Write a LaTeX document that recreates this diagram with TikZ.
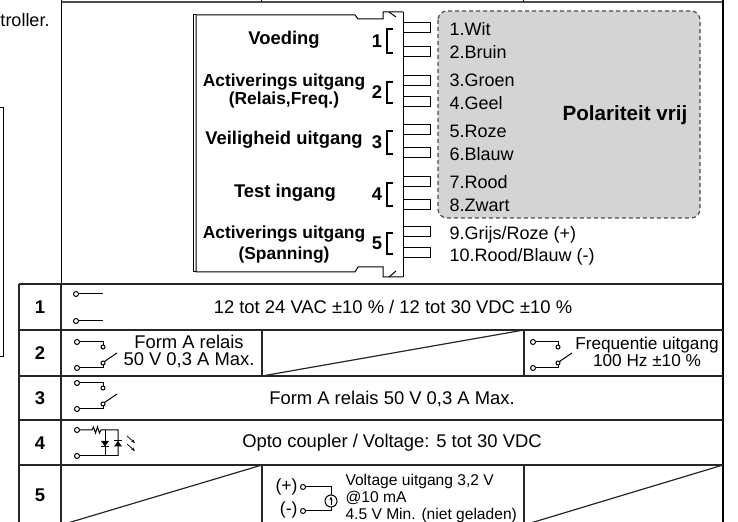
\documentclass[tikz,border=0pt]{standalone}
\usepackage{fontspec}
\setmainfont{Liberation Sans}
\usetikzlibrary{arrows.meta}
\tikzset{
  lbl/.style={font=\fontsize{9.2}{9}\selectfont\bfseries, align=center, inner sep=0pt},
  lbltwo/.style={font=\fontsize{8.7}{9}\selectfont\bfseries, align=center, inner sep=0pt},
  wirelbl/.style={font=\fontsize{9}{10}\selectfont, anchor=west, inner sep=0pt, text height=6.4pt, text depth=0pt},
  txt/.style={font=\fontsize{9.2}{8.5}\selectfont, align=center, inner sep=0pt},
  grid/.style={line width=0.6pt, draw=black!85},
  polar/.style={dashed, dash pattern=on 2pt off 1.5pt, rounded corners=4.5pt, fill=black!17, draw=black!70, line width=0.6pt}
}

\begin{document}
\begin{tikzpicture}[x=0.5pt,y=-0.5pt,line width=0.5pt]
		\useasboundingbox (0,0) rectangle (738,522);
		\clip (0,0) rectangle (738,522);
		\draw[line width=1pt, draw=black!70] (61,2) -- (723,2);
		\draw (261,0) -- (261,2);
		\draw (523,0) -- (523,2);
		\draw[line width=1pt] (723,0) -- (723,530);
		\draw (61,0) -- (61,284);
		\draw (0,108) -- (3,108) -- (3,357) -- (0,357);
		\node[font=\fontsize{9}{10}\selectfont, anchor=west, inner sep=0pt] (ctrl) at (0,20) {troller.};
		\draw (193,15) -- (193,272);
		\draw (196,15) -- (355,15) -- (358,19) -- (383,19) -- (383,12) -- (403,12);
		\draw (389,12) -- (396,17);
		\draw (196,15) -- (196,272) -- (355,272) -- (358,267) -- (383,267) -- (383,277) -- (403,277);
		\draw (389,277) -- (396,271);
		\draw (193,15) -- (196,15);
		\draw (193,272) -- (196,272);
		\draw (403,12) -- (403,277);
		\foreach \y in {28,52,81,102,130,153,182,205,232,253}
		{
			\draw (403,\y-5) -- (430,\y-5) -- (430,\y+5) -- (403,\y+5);
		}
		\foreach \n/\a/\b in {1/28/52,2/81/102,3/130/153,4/182/205,5/232/253}
		{
			\draw[line width=0.9pt] (393,\a+1) -- (387,\a+1) -- (387,\b+1) -- (393,\b+1);
			\node[lbl] (pair\n) at ({377},{(\a+\b)/2+1}) {\n};
		}
		\node[lbl] (voeding) at (284,40) {Voeding};
		\node[lbltwo] (relaisfreq) at (284,91) {Activerings uitgang\\(Relais,Freq.)};
		\node[lbl] (veilig) at (284,140) {Veiligheid uitgang};
		\node[lbl] (testin) at (285,193) {Test ingang};
		\node[lbltwo, font=\fontsize{8.7}{10.5}\selectfont\bfseries] (spanning) at (284,245) {Activerings uitgang\\(Spanning)};
		\draw[polar] (438,11) rectangle (700,218);
		\foreach \y/\t [count=\i] in {29/1.Wit,52/2.Bruin,80/3.Groen,103/4.Geel,131/5.Roze,154/6.Blauw,182/7.Rood,205/8.Zwart,233/{9.Grijs/Roze (+)},255/{10.Rood/Blauw (-)}}
		{
			\node[wirelbl] (wire\i) at (449,\y) {\t};
		}
		\node[font=\fontsize{10.3}{12}\selectfont\bfseries, inner sep=0pt] (polariteit) at (625,115) {Polariteit vrij};
		\foreach \y in {284,330,376,420,465}
		{
			\draw[grid] (19,\y) -- (723,\y);
		}
		\draw[grid] (19,284) -- (19,530);
		\draw[grid] (61,284) -- (61,530);
		\draw[grid] (262,330) -- (262,376);
		\draw[grid] (524,330) -- (524,376);
		\draw[grid] (262,376) -- (524,330);
		\draw[grid] (262,465) -- (262,530);
		\draw[grid] (524,465) -- (524,530);
		\draw[grid] (61,525) -- (262,465);
		\draw[grid] (524,525) -- (723,465);
		\foreach \n/\y in {1/307,2/353,3/398,4/443,5/495}
		{
			\node[lbl] (row\n) at (40,\y) {\n};
		}
		\draw (76,294) circle (1.25pt);
		\draw (78.5,294) -- (103,294);
		\draw (76,321) circle (1.25pt);
		\draw (78.5,321) -- (103,321);
		\node[txt] (voedingtxt) at (393,307) {12 tot 24 VAC ±10 \% / 12 tot 30 VDC ±10 \%};
		\foreach \x/\y/\w in {77/342/26,77/383/26,533/342/25}
		{
			\draw (\x,\y) circle (1.25pt);
			\draw (\x+2.5,\y) -- (\x+\w,\y) -- (\x+\w,\y+3);
			\draw (\x+\w,\y+5) circle (1pt);
			\draw (\x,\y+26) circle (1.25pt);
			\draw (\x+2.5,\y+26) -- (\x+\w,\y+26) -- (\x+\w,\y+23);
			\draw (\x+\w,\y+21) circle (1pt);
			\draw (\x+\w+1.5,\y+19.5) -- (\x+\w+14,\y+11);
		}
		\node[txt] (formarelais) at (189,352) {Form A relais\\50 V 0,3 A Max.};
		\node[txt, font=\fontsize{8.6}{8.5}\selectfont] (frequentie) at (647,352) {Frequentie uitgang\\100 Hz ±10 \%};
		\node[txt] (formbrelais) at (392,399) {Form A relais 50 V 0,3 A Max.};
		\draw (77,430) circle (1.25pt);
		\draw (79.5,430) -- (92,430) -- (93.5,427) -- (95.5,433) -- (97.5,427) -- (99.5,433) -- (101,430) -- (118,430) -- (118,456);
		\draw (105,430) -- (105,456);
		\draw (77,456) circle (1.25pt);
		\draw (79.5,456) -- (118,456);
		\fill (101,441) -- (109,441) -- (105,446.5) -- cycle;
		\draw (101,446.5) -- (109,446.5);
		\fill (114,446.5) -- (122,446.5) -- (118,441) -- cycle;
		\draw (114,441) -- (122,441);
		\draw[-{Stealth[length=2pt,width=1.6pt]}, line width=0.35pt] (127,436) -- (135,443);
		\draw[-{Stealth[length=2pt,width=1.6pt]}, line width=0.35pt] (127,444) -- (135,451);
		\node[txt] (optotxt) at (392,443) {Opto coupler / Voltage: 5 tot 30 VDC};
		\node[font=\fontsize{8.8}{9}\selectfont, anchor=east, inner sep=0pt] (plus) at (298,487) {(+)};
		\node[font=\fontsize{8.8}{9}\selectfont, anchor=east, inner sep=0pt] (minus) at (298,510) {(-)};
		\draw (303,487) circle (1.25pt);
		\draw (305.5,487) -- (331,487) -- (331,495);
		\draw (331,501) circle (3pt);
		\draw (331,507) -- (331,511) -- (305.5,511);
		\draw (303,511) circle (1.25pt);
		\draw[-{Stealth[length=2pt,width=1.6pt]}, line width=0.35pt] (331,505) -- (331,496.5);
		\node[font=\fontsize{7.8}{8.5}\selectfont, anchor=west, align=left, inner sep=0pt] (spanningtxt) at (345,498) {Voltage uitgang 3,2 V\\@10 mA\\4.5 V Min. (niet geladen)};
\end{tikzpicture}
\end{document}
